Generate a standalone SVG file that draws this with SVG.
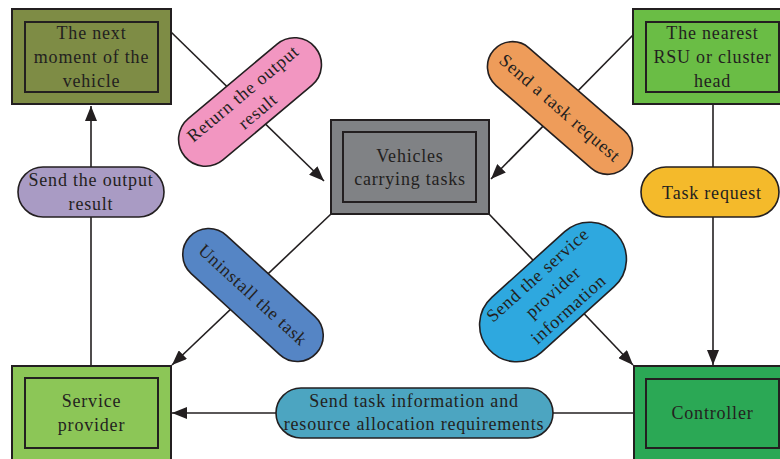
<svg xmlns="http://www.w3.org/2000/svg" width="780" height="459" viewBox="0 0 780 459">
<style>
text{font-family:"Liberation Serif","Times New Roman",serif;font-size:18px;fill:#231f20;text-anchor:middle;letter-spacing:0.8px}
.o{stroke:#231f20;stroke-width:2}
.i{fill:none;stroke:#231f20;stroke-width:2}
.p{stroke:#231f20;stroke-width:1.6}
.c{fill:none;stroke:#231f20;stroke-width:1.6;marker-end:url(#ah)}
</style>
<defs>
<marker id="ah" markerUnits="userSpaceOnUse" markerWidth="16" markerHeight="12" viewBox="0 0 16 12" refX="15" refY="6" orient="auto">
<path d="M0,0 L15,6 L0,12 Z" fill="#231f20"/>
</marker>
</defs>
<g id="connectors">
<path class="c" d="M91,366 L91,106"/>
<path class="c" d="M171,32 L324,181"/>
<path class="c" d="M633,35 L491,179"/>
<path class="c" d="M713,104 L713,365"/>
<path class="c" d="M331,214 L172,365"/>
<path class="c" d="M489,214 L633,365"/>
<path class="c" d="M634,413 L172,413"/>
</g>
<g id="node-next-moment">
<rect class="o" x="12" y="9" width="159" height="95" fill="#7e8c45"/>
<rect class="i" x="25" y="22" width="133" height="70"/>
<text x="91.5" y="39">The next</text>
<text x="91.5" y="63">moment of the</text>
<text x="91.5" y="87">vehicle</text>
</g>
<g id="node-nearest-rsu">
<rect class="o" x="633" y="9" width="159" height="95" fill="#6abd45"/>
<rect class="i" x="646" y="22" width="133" height="70"/>
<text x="712.5" y="39">The nearest</text>
<text x="712.5" y="63">RSU or cluster</text>
<text x="712.5" y="87">head</text>
</g>
<g id="node-vehicles">
<rect class="o" x="331" y="120" width="158" height="94" fill="#808285"/>
<rect class="i" x="343" y="132" width="133" height="70"/>
<text x="410" y="162">Vehicles</text>
<text x="410" y="185">carrying tasks</text>
</g>
<g id="node-service-provider">
<rect class="o" x="12" y="366" width="159" height="95" fill="#8cc657"/>
<rect class="i" x="25" y="378" width="133" height="70"/>
<text x="91.5" y="407">Service</text>
<text x="91.5" y="431">provider</text>
</g>
<g id="node-controller">
<rect class="o" x="634" y="366" width="159" height="95" fill="#2ba855"/>
<rect class="i" x="646" y="379" width="133" height="69"/>
<text x="712.5" y="419">Controller</text>
</g>
<g id="label-send-output">
<rect class="p" x="18" y="167" width="146" height="50" rx="25" fill="#a99bc4"/>
<text x="91" y="186">Send the output</text>
<text x="91" y="210">result</text>
</g>
<g id="label-task-request">
<rect class="p" x="641" y="167" width="138" height="50" rx="25" fill="#f4ba2b"/>
<text x="712" y="199">Task request</text>
</g>
<g id="label-send-task-info">
<rect class="p" x="276" y="388" width="277" height="50" rx="25" fill="#4ca5c1"/>
<text x="414" y="407">Send task information and</text>
<text x="414" y="430">resource allocation requirements</text>
</g>
<g id="label-return-output" transform="translate(250,102) rotate(-40)">
<rect class="p" x="-85" y="-27" width="170" height="54" rx="27" fill="#f296c1"/>
<text x="0" y="-5">Return the output</text>
<text x="0" y="18">result</text>
</g>
<g id="label-send-task-request" transform="translate(560,108) rotate(41)">
<rect class="p" x="-88" y="-25" width="176" height="50" rx="25" fill="#ee9c5a"/>
<text x="0" y="6">Send a task request</text>
</g>
<g id="label-uninstall" transform="translate(253,295) rotate(42.5)">
<rect class="p" x="-86" y="-26" width="172" height="52" rx="26" fill="#5585c5"/>
<text x="0" y="6">Uninstall the task</text>
</g>
<g id="label-send-service-info" transform="translate(553,292) rotate(-42)">
<rect class="p" x="-86" y="-37" width="172" height="74" rx="37" fill="#2ea8df"/>
<text x="0" y="-17">Send the service</text>
<text x="0" y="6">provider</text>
<text x="0" y="29">information</text>
</g>
</svg>
